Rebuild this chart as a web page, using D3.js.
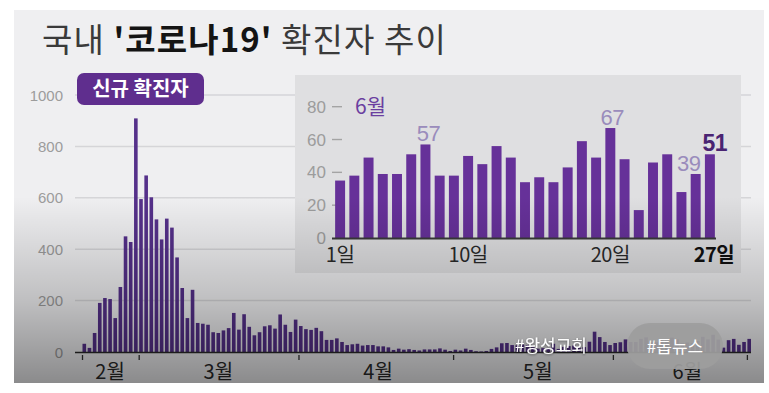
<!DOCTYPE html>
<html><head><meta charset="utf-8">
<script src="https://cdn.jsdelivr.net/npm/d3@7"></script>
<style>
body{margin:0;background:#fff}
svg{display:block}
text{font-family:"Liberation Sans","Noto Sans CJK KR",sans-serif}
.kr{font-family:"Noto Sans CJK KR","Liberation Sans",sans-serif}
</style>
</head><body>
<svg id="c" width="769" height="393"></svg>
<script>
// ---- data (daily new confirmed cases) ----
const febValues = [32, 16, 74, 191, 210, 206, 132, 253, 450, 428, 909]; // Feb 19–29
const marValues = [595, 687, 602, 516, 438, 519, 484, 368, 249, 132, 242, 113, 110, 106, 77, 74, 84, 93, 152, 87, 147, 98, 65, 77, 100, 104, 91, 146, 106, 78, 126];
const aprValues = [101, 89, 86, 94, 81, 47, 47, 53, 39, 27, 30, 32, 25, 27, 27, 22, 22, 18, 8, 13, 9, 11, 8, 6, 10, 10, 10, 14, 9, 4];
const mayValues = [9, 6, 13, 8, 3, 2, 4, 12, 18, 34, 35, 27, 26, 29, 27, 19, 13, 15, 13, 32, 12, 20, 23, 25, 16, 19, 40, 79, 58, 39, 27];
const junValues = [35, 38, 49, 39, 39, 51, 57, 38, 38, 50, 45, 56, 49, 34, 37, 34, 43, 59, 49, 67, 48, 17, 46, 51, 28, 39, 51];
const startDate = "2020-02-19", endDate = "2020-06-27";
const yTicks = [0, 200, 400, 600, 800, 1000];
const monthLabels = ["2월", "3월", "4월", "5월", "6월"];
const monthLabelDates = ["2020-02-24", "2020-03-16", "2020-04-16", "2020-05-17", "2020-06-15"];
const axisTickDates = ["2020-02-19", "2020-03-01", "2020-04-01", "2020-05-01", "2020-06-01", "2020-06-27"];
const insetTicks = [0, 20, 40, 60, 80];
const insetDayLabels = ["1일", "10일", "20일", "27일"];
const insetDayIdx = [1, 10, 20, 27];
const insetHighlights = [{day: 7, label: "57"}, {day: 20, label: "67"}, {day: 26, label: "39"}, {day: 27, label: "51"}];
const titleParts = ["국내 ", "'코로나19'", " 확진자 추이"];

const parse = d3.timeParse("%Y-%m-%d");
const dates = d3.timeDay.range(parse(startDate), d3.timeDay.offset(parse(endDate), 1));
const values = febValues.concat(marValues, aprValues, mayValues, junValues);
const data = dates.map((d, i) => ({date: d, v: values[i]}));
const juneData = junValues.map((v, i) => ({day: i + 1, v}));

const svg = d3.select("#c");
const defs = svg.append("defs");
const g1 = defs.append("linearGradient").attr("id", "shade").attr("gradientUnits", "userSpaceOnUse")
  .attr("x1", 0).attr("x2", 0).attr("y1", 10).attr("y2", 383);
[[0, 0], [0.50, 0], [0.777, 0.2], [0.91, 0.33], [1, 0.42]].forEach(([o, a]) =>
  g1.append("stop").attr("offset", o).attr("stop-color", "#000").attr("stop-opacity", a));
const f = defs.append("filter").attr("id", "ts").attr("x", "-10%").attr("y", "-20%").attr("width", "120%").attr("height", "140%");
f.append("feDropShadow").attr("dx", 0).attr("dy", 1).attr("stdDeviation", 1).attr("flood-color", "#000").attr("flood-opacity", 0.45);

// panel
svg.append("rect").attr("x", 14).attr("y", 10).attr("width", 750).attr("height", 373).attr("fill", "#efeff1");

// title
const title = svg.append("text").attr("class", "kr").attr("x", 42).attr("y", 52).attr("font-size", 33)
  .attr("letter-spacing", 1.1).attr("fill", "#333");
titleParts.forEach((t, i) => title.append("tspan").text(t)
  .attr("font-weight", i === 1 ? 700 : 400).attr("fill", i === 1 ? "#141414" : "#3a3a3a"));

// main scales
const x = d3.scaleBand().domain(data.map(d => +d.date)).range([82.5, 751]).paddingInner(0.3).paddingOuter(0);
const y = d3.scaleLinear().domain([0, 1000]).range([352, 95]);

// grid
svg.append("g").selectAll("line").data(yTicks.filter(t => t > 0)).join("line")
  .attr("x1", 75).attr("x2", 751).attr("y1", d => y(d)).attr("y2", d => y(d))
  .attr("stroke", "#d5d5d8").attr("stroke-width", 1.5);
svg.append("g").selectAll("text").data(yTicks).join("text")
  .attr("x", 63).attr("y", d => y(d) + 5.5).attr("text-anchor", "end")
  .attr("font-size", 15).attr("fill", "#9c9c9c").text(d => d);

// badge
svg.append("rect").attr("x", 77).attr("y", 73).attr("width", 127).attr("height", 32).attr("rx", 7).attr("fill", "#5f2e8e");
svg.append("text").attr("class", "kr").attr("x", 140.5).attr("y", 96).attr("text-anchor", "middle")
  .attr("font-size", 20).attr("font-weight", 700).attr("fill", "#fff").text("신규 확진자");

// main bars
svg.append("g").selectAll("rect").data(data).join("rect")
  .attr("x", d => x(+d.date)).attr("width", x.bandwidth())
  .attr("y", d => y(d.v)).attr("height", d => y(0) - y(d.v)).attr("fill", "#55308a");
svg.append("line").attr("x1", 75).attr("x2", 751).attr("y1", y(0) + 0.5).attr("y2", y(0) + 0.5)
  .attr("stroke", "#2a2a2a").attr("stroke-width", 1.6);
svg.append("g").selectAll("line").data(axisTickDates).join("line")
  .attr("x1", d => x(+parse(d))).attr("x2", d => x(+parse(d)))
  .attr("y1", 355).attr("y2", 360).attr("stroke", "#333").attr("stroke-width", 1.3);
svg.append("g").selectAll("text").data(monthLabels).join("text").attr("class", "kr")
  .attr("x", (d, i) => x(+parse(monthLabelDates[i])) + x.bandwidth() / 2).attr("y", 379)
  .attr("text-anchor", "middle").attr("font-size", 20).attr("fill", "#2a2a2a").text(d => d);

// inset
svg.append("rect").attr("x", 295).attr("y", 75).attr("width", 446).attr("height", 198).attr("fill", "#dfdfe1");
const xi = d3.scaleBand().domain(d3.range(1, 28)).range([333, 717]).paddingInner(0.3).paddingOuter(0.15);
const yi = d3.scaleLinear().domain([0, 80]).range([238, 106.7]);
svg.append("g").selectAll("text").data(insetTicks).join("text")
  .attr("x", 326).attr("y", d => yi(d) + 6).attr("text-anchor", "end")
  .attr("font-size", 17).attr("fill", "#9c9c9c").text(d => d);
svg.append("g").selectAll("line").data(insetTicks.filter(t => t > 0)).join("line")
  .attr("x1", 332).attr("x2", 342).attr("y1", d => yi(d)).attr("y2", d => yi(d))
  .attr("stroke", "#a4a4a4").attr("stroke-width", 1.4);
svg.append("text").attr("class", "kr").attr("x", 355).attr("y", 114).attr("font-size", 21)
  .attr("fill", "#6b3fa0").text("6월");
svg.append("g").selectAll("rect").data(juneData).join("rect")
  .attr("x", d => xi(d.day)).attr("width", xi.bandwidth())
  .attr("y", d => yi(d.v)).attr("height", d => yi(0) - yi(d.v)).attr("fill", "#663199");
svg.append("line").attr("x1", 332).attr("x2", 716).attr("y1", yi(0) + 0.5).attr("y2", yi(0) + 0.5)
  .attr("stroke", "#3a3a3a").attr("stroke-width", 2);
const lblDx = {7: 3, 20: 2, 26: -7, 27: 5};
svg.append("g").selectAll("text").data(insetHighlights).join("text")
  .attr("x", d => xi(d.day) + xi.bandwidth() / 2 + lblDx[d.day])
  .attr("y", d => yi(junValues[d.day - 1]) - 3).attr("text-anchor", "middle")
  .attr("font-size", d => d.day === 27 ? 23 : 22).attr("font-weight", d => d.day === 27 ? 700 : 400)
  .attr("fill", d => d.day === 27 ? "#4a2472" : "#9a8cbc").attr("letter-spacing", -0.5).text(d => d.label);
svg.append("g").selectAll("text").data(insetDayLabels).join("text").attr("class", "kr")
  .attr("x", (d, i) => xi(insetDayIdx[i]) + xi.bandwidth() / 2 + (insetDayIdx[i] === 27 ? 4 : 0))
  .attr("y", 262).attr("text-anchor", "middle").attr("font-size", 20).attr("letter-spacing", -0.5)
  .attr("font-weight", (d, i) => insetDayIdx[i] === 27 ? 700 : 400)
  .attr("fill", (d, i) => insetDayIdx[i] === 27 ? "#111" : "#2a2a2a").text(d => d);

// darkening overlay
svg.append("rect").attr("x", 14).attr("y", 10).attr("width", 750).attr("height", 373).attr("fill", "url(#shade)");

// video tags
svg.append("text").attr("class", "kr").attr("x", 515).attr("y", 352).attr("font-size", 17)
  .attr("fill", "#fff").attr("filter", "url(#ts)").text("#왕성교회");
svg.append("rect").attr("x", 627).attr("y", 323).attr("width", 96).attr("height", 46).attr("rx", 23)
  .attr("fill", "#9d9d9d").attr("fill-opacity", 0.93);
svg.append("text").attr("class", "kr").attr("x", 675).attr("y", 353).attr("text-anchor", "middle")
  .attr("font-size", 17).attr("fill", "#fff").text("#톱뉴스");
</script>
</body></html>
